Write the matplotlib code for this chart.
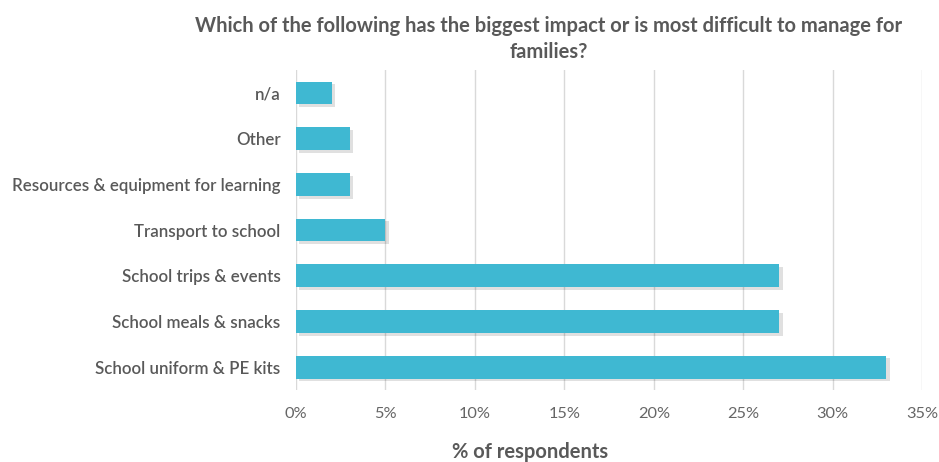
import matplotlib
matplotlib.use("Agg")
import matplotlib.pyplot as plt
import matplotlib.patheffects as pe
from matplotlib.ticker import FuncFormatter

categories = [
    "School uniform & PE kits",
    "School meals & snacks",
    "School trips & events",
    "Transport to school",
    "Resources & equipment for learning",
    "Other",
    "n/a",
]
values = [33, 27, 27, 5, 3, 3, 2]
x_ticks = [0, 5, 10, 15, 20, 25, 30, 35]

title = "Which of the following has the biggest impact or is most difficult to manage for\nfamilies?"
xlabel = "% of respondents"

bar_color = "#3FB8D2"
text_color = "#595959"
grid_color = "#D9D9D9"

plt.rcParams["font.family"] = ["Lato", "DejaVu Sans"]

fig = plt.figure(figsize=(9.39, 4.62), dpi=100)
ax = fig.add_axes([0.3152, 0.156, 0.667, 0.692])

bars = ax.barh(range(len(categories)), values, height=0.5, color=bar_color,
               zorder=3)
for b in bars:
    b.set_path_effects([
        pe.SimplePatchShadow(offset=(2.5, -2), shadow_rgbFace="#000000", alpha=0.12),
        pe.Normal(),
    ])

ax.set_yticks(range(len(categories)))
ax.set_yticklabels(categories, fontsize=12.2, color=text_color, fontweight="semibold")
ax.set_ylim(-0.5, len(categories) - 0.5)

ax.set_xlim(0, 35)
ax.set_xticks(x_ticks)
ax.xaxis.set_major_formatter(FuncFormatter(lambda v, p: f"{v:.0f}%"))
ax.tick_params(axis="x", labelsize=11.8, labelcolor="#666666", length=0, pad=12)
ax.tick_params(axis="y", length=0, pad=11)

ax.grid(axis="x", color=grid_color, linewidth=1, zorder=0)
for s in ax.spines.values():
    s.set_visible(False)

fig.text(0.584, 0.965, title, ha="center", va="top", fontsize=14.5,
         fontweight="bold", color=text_color, linespacing=1.35)
fig.text(0.564, 0.0, xlabel, ha="center", va="bottom", fontsize=14.5,
         fontweight="bold", color=text_color)

fig.savefig("out.png", dpi=100)
